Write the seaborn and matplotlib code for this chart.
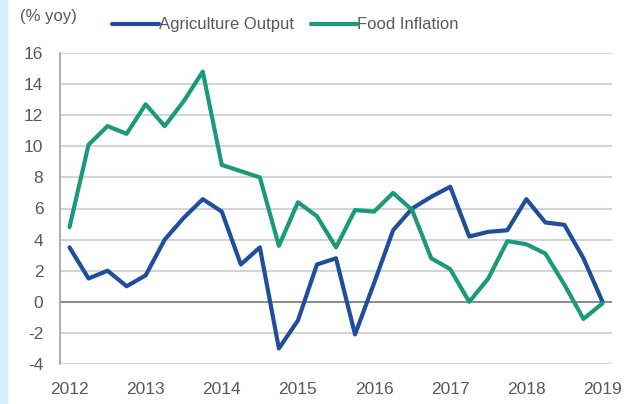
import numpy as np
import pandas as pd
import matplotlib
matplotlib.use("Agg")
import matplotlib.pyplot as plt
import seaborn as sns
from matplotlib.patches import Rectangle

# Quarterly data, 2012Q1 .. 2019Q1
quarters = [2012 + i / 4 for i in range(29)]
agri_output = [3.5, 1.5, 2.0, 1.0, 1.7, 4.0, 5.4, 6.6, 5.8, 2.4, 3.5, -3.0, -1.2, 2.4, 2.8,
               -2.1, 1.2, 4.6, 6.0, 6.75, 7.4, 4.2, 4.5, 4.6, 6.6, 5.1, 4.95, 2.8, 0.0]
food_inflation = [4.8, 10.1, 11.3, 10.8, 12.7, 11.3, 12.9, 14.8, 8.8, 8.4, 8.0, 3.6, 6.4, 5.5, 3.5,
                  5.9, 5.8, 7.0, 5.9, 2.8, 2.1, 0.0, 1.5, 3.9, 3.7, 3.1, 1.1, -1.1, -0.1]
year_ticks = list(range(2012, 2020))
y_ticks = list(range(-4, 17, 2))

df = pd.DataFrame({
    "quarter": quarters * 2,
    "value": agri_output + food_inflation,
    "series": ["Agriculture Output"] * 29 + ["Food Inflation"] * 29,
})

sns.set_style("white")
plt.rcParams["font.family"] = ["Liberation Sans", "DejaVu Sans"]

fig = plt.figure(figsize=(6.28, 4.04), dpi=100)
ax = fig.add_axes([60 / 628, 40 / 404, 552 / 628, 311 / 404])

# light blue strip on the left edge of the source image
fig.patches.append(Rectangle((0, 0), 7 / 628, 1, transform=fig.transFigure,
                             color="#d3effc", zorder=0))

grey = "#595959"
for y in y_ticks:
    ax.axhline(y, color="#808080" if y == 0 else "#d4d4d4",
               lw=1.3 if y == 0 else 1.5, zorder=1)

palette = {"Agriculture Output": "#1f4e9a", "Food Inflation": "#1b9a7a"}
sns.lineplot(data=df, x="quarter", y="value", hue="series", palette=palette,
             linewidth=3, ax=ax, zorder=3)

ax.set_xlim(2011.875, 2019.125)
ax.set_ylim(-4, 16)
ax.set_xticks(year_ticks)
ax.set_xticklabels([str(y) for y in year_ticks], fontsize=12.5, color=grey)
ax.set_yticks(y_ticks)
ax.set_yticklabels([str(y) for y in y_ticks], fontsize=12.5, color=grey)
ax.tick_params(axis="y", length=0, pad=12)
ax.tick_params(axis="x", length=0, pad=13)
ax.set_xlabel("")
ax.set_ylabel("")

for side in ["top", "right", "bottom"]:
    ax.spines[side].set_visible(False)
ax.spines["left"].set_color("#a0a0a0")
ax.spines["left"].set_linewidth(1.2)

leg = ax.legend(loc="lower left", bbox_to_anchor=(0.083, 1.045), ncol=2, frameon=False,
                fontsize=12, handlelength=2.8, handletextpad=0, columnspacing=1.0,
                borderaxespad=0)
for t in leg.get_texts():
    t.set_color(grey)

fig.text(20 / 628, 1 - 17 / 404, "(% yoy)", fontsize=12, color=grey, va="center")

fig.savefig("out.png", dpi=100, facecolor="white")
